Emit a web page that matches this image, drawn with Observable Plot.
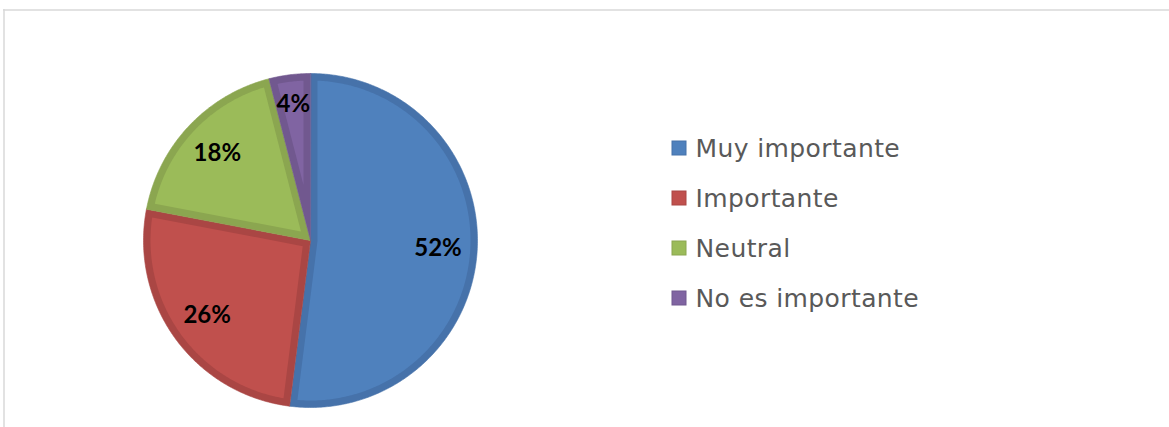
<!DOCTYPE html>
<html>
<head>
<meta charset="utf-8">
<script src="https://cdn.jsdelivr.net/npm/d3@7"></script>
<script src="https://cdn.jsdelivr.net/npm/@observablehq/plot@0.6"></script>
<style>
  html, body { margin: 0; padding: 0; background: #fff; }
  #chart { width: 1169px; height: 427px; }
</style>
</head>
<body>
<div id="chart"></div>
<script>
const categories = ["Muy importante", "Importante", "Neutral", "No es importante"];
const values = [52, 26, 18, 4];
const labels = ["52%", "26%", "18%", "4%"];
const fills = ["#4F81BD", "#C0504D", "#9BBB59", "#8064A2"];
const borders = ["#4672AA", "#AA4644", "#8BA650", "#71588F"];

const W = 1169, H = 427;
const cx = 310, cy = 240, R = 167, bw = 7;

const pie = d3.pie().sort(null).value(d => d)(values);
const pt = (a, r) => [cx + r * Math.sin(a), cy - r * Math.cos(a)];

function arcPts(a0, a1, r) {
  const n = Math.max(2, Math.ceil(Math.abs(a1 - a0) / 0.01));
  const out = [];
  for (let i = 0; i <= n; i++) out.push(pt(a0 + (a1 - a0) * i / n, r));
  return out;
}

const outer = [], inner = [];
pie.forEach((s, i) => {
  const a0 = s.startAngle, a1 = s.endAngle, th = a1 - a0;
  [[cx, cy], ...arcPts(a0, a1, R)].forEach(([x, y]) => outer.push({i, x, y, c: borders[i]}));
  const ri = R - bw;
  const d = Math.asin(bw / ri);
  let pts = [];
  if (th < Math.PI) {
    const m = (a0 + a1) / 2;
    pts.push(pt(m, bw / Math.sin(th / 2)));
    pts.push(...arcPts(a0 + d, a1 - d, ri));
  } else {
    pts.push(...arcPts(a0 + d, a1 - d, ri));
    pts.push(...arcPts(a1 - Math.PI / 2, a0 + Math.PI / 2, bw));
  }
  pts.forEach(([x, y]) => inner.push({i, x, y, c: fills[i]}));
});

const labelData = pie.map((s, i) => {
  const m = (s.startAngle + s.endAngle) / 2;
  const k = values[i] < 10 ? 0.82 : 0.765;
  const [x, y] = pt(m, R * k);
  return {x, y, t: labels[i]};
});

const legendY0 = 148, legendStep = 50, legendX = 672, sq = 14;
const legend = categories.map((c, i) => ({
  name: c,
  x1: legendX, x2: legendX + sq,
  y1: legendY0 + i * legendStep - sq / 2, y2: legendY0 + i * legendStep + sq / 2,
  ty: legendY0 + i * legendStep,
  fill: fills[i], stroke: borders[i]
}));

const chart = Plot.plot({
  width: W, height: H,
  margin: 0,
  x: {domain: [0, W], range: [0, W], axis: null},
  y: {domain: [0, H], range: [0, H], axis: null},
  color: {type: "identity"},
  style: {background: "#fff", overflow: "visible"},
  marks: [
    Plot.ruleY([9.5], {x1: 3, x2: W, stroke: "#d9d9d9", strokeWidth: 1.5}),
    Plot.ruleX([3.5], {y1: 9, y2: H, stroke: "#d9d9d9", strokeWidth: 1.5}),
    Plot.line(outer, {x: "x", y: "y", z: "i", fill: "c", stroke: "c", strokeWidth: 0.6, curve: "linear-closed"}),
    Plot.line(inner, {x: "x", y: "y", z: "i", fill: "c", stroke: null, curve: "linear-closed"}),
    Plot.text(labelData, {x: "x", y: "y", text: "t", fill: "#000", fontSize: 24, fontWeight: "bold",
      fontFamily: "Lato, 'Open Sans', sans-serif", textAnchor: "middle", lineAnchor: "middle"}),
    Plot.rect(legend, {x1: "x1", x2: "x2", y1: "y1", y2: "y2", fill: "fill", stroke: "stroke", strokeWidth: 1}),
    Plot.text(legend, {x: legendX + sq + 9, y: "ty", text: "name", fill: "#595959", fontSize: 25,
      fontFamily: "'DejaVu Sans', sans-serif", textAnchor: "start", lineAnchor: "middle",
      style: {letterSpacing: "0.4px"}})
  ]
});
chart.querySelectorAll("text").forEach(t => {
  if (t.textContent && categories.includes(t.textContent)) t.style.letterSpacing = "0.4px";
});
document.getElementById("chart").appendChild(chart);
</script>
</body>
</html>
